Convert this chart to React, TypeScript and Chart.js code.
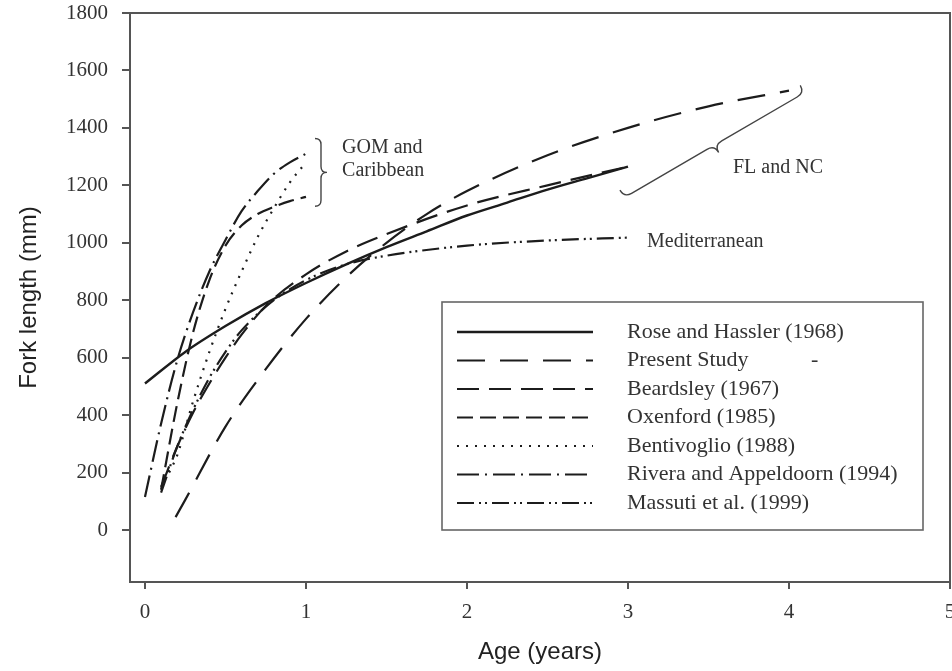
import React, { useEffect, useRef } from "react";
import { Chart, registerables } from "chart.js";

Chart.register(...registerables);

// ---------- data ----------
const xTicks = [0, 1, 2, 3, 4, 5];
const yTicks = [0, 200, 400, 600, 800, 1000, 1200, 1400, 1600, 1800];

const seriesNames = [
  "Rose and Hassler (1968)",
  "Present Study",
  "Beardsley (1967)",
  "Oxenford (1985)",
  "Bentivoglio (1988)",
  "Rivera and Appeldoorn (1994)",
  "Massuti et al. (1999)",
];

const roseAge = [0, 0.25, 0.5, 0.75, 1, 1.25, 1.5, 1.75, 2, 2.25, 2.5, 2.75, 3];
const roseFL = [510, 620, 710, 790, 860, 925, 985, 1040, 1095, 1140, 1185, 1225, 1265];

const presentAge = [0.19, 0.25, 0.5, 0.75, 1, 1.25, 1.5, 1.75, 2, 2.5, 3, 3.5, 4];
const presentFL = [45, 105, 360, 560, 735, 880, 1000, 1100, 1180, 1305, 1400, 1475, 1530];

const beardsleyAge = [0.1, 0.2, 0.3, 0.4, 0.5, 0.6, 0.75, 1, 1.25, 1.5, 2, 2.5, 3];
const beardsleyFL = [150, 290, 410, 510, 600, 680, 780, 890, 970, 1030, 1130, 1200, 1265];

const oxenfordAge = [0.1, 0.2, 0.3, 0.4, 0.5, 0.6, 0.7, 0.8, 0.9, 1];
const oxenfordFL = [140, 440, 690, 870, 990, 1060, 1100, 1125, 1145, 1160];

const bentivoglioAge = [0.15, 0.2, 0.3, 0.4, 0.5, 0.6, 0.7, 0.8, 0.9, 1];
const bentivoglioFL = [200, 260, 450, 620, 770, 900, 1020, 1120, 1210, 1280];

const riveraAge = [0, 0.1, 0.2, 0.3, 0.4, 0.5, 0.6, 0.7, 0.8, 0.9, 1];
const riveraFL = [115, 370, 590, 760, 900, 1010, 1110, 1180, 1240, 1280, 1310];

const massutiAge = [0.1, 0.2, 0.3, 0.4, 0.5, 0.6, 0.8, 1, 1.25, 1.5, 2, 2.5, 3];
const massutiFL = [130, 290, 420, 530, 620, 695, 800, 870, 925, 955, 990, 1008, 1018];

// ---------- styles ----------
const SERIF = '"Liberation Serif", "Times New Roman", serif';
const SANS = '"Liberation Sans", Arial, sans-serif';
const INK = "#1c1c1c";
const FRAME = "#555555";

const dashStyles: number[][] = [
  [],
  [28, 15],
  [22, 10],
  [16, 7],
  [2, 7],
  [22, 6, 2, 6],
  [17, 5, 2, 4, 2, 5],
];
const widths = [2.4, 2.2, 2.2, 2.2, 2.2, 2.2, 2.2];

const pairs = (ages: number[], fl: number[]) => ages.map((a, i) => ({ x: a, y: fl[i] }));

const seriesData = [
  pairs(roseAge, roseFL),
  pairs(presentAge, presentFL),
  pairs(beardsleyAge, beardsleyFL),
  pairs(oxenfordAge, oxenfordFL),
  pairs(bentivoglioAge, bentivoglioFL),
  pairs(riveraAge, riveraFL),
  pairs(massutiAge, massutiFL),
];

function brace(ctx: CanvasRenderingContext2D, x1: number, y1: number, x2: number, y2: number, w: number) {
  const dx = x2 - x1, dy = y2 - y1;
  const len = Math.hypot(dx, dy);
  const ux = dx / len, uy = dy / len;
  const nx = uy, ny = -ux;
  const h = w / 2;
  const mx = (x1 + x2) / 2, my = (y1 + y2) / 2;
  ctx.beginPath();
  ctx.moveTo(x1, y1);
  ctx.quadraticCurveTo(x1 + nx * h, y1 + ny * h, x1 + nx * h + ux * h, y1 + ny * h + uy * h);
  ctx.lineTo(mx + nx * h - ux * h, my + ny * h - uy * h);
  ctx.quadraticCurveTo(mx + nx * h, my + ny * h, mx + nx * w, my + ny * w);
  ctx.quadraticCurveTo(mx + nx * h, my + ny * h, mx + nx * h + ux * h, my + ny * h + uy * h);
  ctx.lineTo(x2 + nx * h - ux * h, y2 + ny * h - uy * h);
  ctx.quadraticCurveTo(x2 + nx * h, y2 + ny * h, x2, y2);
  ctx.stroke();
}

const decorPlugin = {
  id: "decor",
  afterDraw(chart: any) {
    const { ctx, chartArea: a, scales } = chart;
    const xs = scales.x, ys = scales.y;
    const px = (v: number) => xs.getPixelForValue(v);
    const py = (v: number) => ys.getPixelForValue(v);
    ctx.save();
    // top & right frame
    ctx.strokeStyle = FRAME;
    ctx.lineWidth = 2;
    ctx.setLineDash([]);
    ctx.beginPath();
    ctx.moveTo(a.left - 1, a.top);
    ctx.lineTo(a.right, a.top);
    ctx.lineTo(a.right, a.bottom);
    ctx.stroke();

    // legend box
    const L = { left: 442, top: 302, right: 923, bottom: 530 };
    ctx.fillStyle = "#ffffff";
    ctx.fillRect(L.left, L.top, L.right - L.left, L.bottom - L.top);
    ctx.strokeStyle = "#666";
    ctx.lineWidth = 1.6;
    ctx.strokeRect(L.left, L.top, L.right - L.left, L.bottom - L.top);
    ctx.font = `22px ${SERIF}`;
    ctx.textBaseline = "middle";
    ctx.textAlign = "left";
    chart.data.datasets.forEach((ds: any, i: number) => {
      const yy = 332 + i * 28.5;
      ctx.strokeStyle = INK;
      ctx.lineWidth = ds.borderWidth;
      ctx.lineCap = "butt";
      ctx.setLineDash(ds.borderDash || []);
      ctx.beginPath();
      ctx.moveTo(457, yy);
      ctx.lineTo(593, yy);
      ctx.stroke();
      ctx.setLineDash([]);
      ctx.fillStyle = "#333";
      ctx.fillText(ds.label, 627, yy);
    });
    ctx.fillText("-", 811, 332 + 28.5);

    // annotations
    ctx.strokeStyle = "#444";
    ctx.lineWidth = 1.4;
    ctx.setLineDash([]);
    brace(ctx, px(1.056), py(1363), px(1.056), py(1127), 12);
    brace(ctx, px(4.07), py(1548), px(2.95), py(1183), 17);
    ctx.fillStyle = "#333";
    ctx.font = `20px ${SERIF}`;
    ctx.textBaseline = "middle";
    ctx.fillText("GOM and", px(1.224), py(1332));
    ctx.fillText("Caribbean", px(1.224), py(1252));
    ctx.fillText("FL and NC", px(3.652), py(1262));
    ctx.fillText("Mediterranean", px(3.118), py(1005));
    ctx.restore();
  },
};

export default function App() {
  const ref = useRef<HTMLCanvasElement>(null);
  useEffect(() => {
    document.body.style.margin = "0";
    const chart = new Chart(ref.current as HTMLCanvasElement, {
      type: "line",
      data: {
        datasets: seriesNames.map((name, i) => ({
          label: name,
          data: seriesData[i],
          borderColor: INK,
          borderWidth: widths[i],
          borderDash: dashStyles[i],
          pointRadius: 0,
          fill: false,
          cubicInterpolationMode: "monotone" as const,
        })),
      },
      options: {
        animation: false,
        responsive: false,
        maintainAspectRatio: false,
        layout: { padding: { left: 0, top: 13, right: 2, bottom: 0 }, autoPadding: false },
        plugins: { legend: { display: false }, tooltip: { enabled: false }, title: { display: false } },
        scales: {
          x: {
            type: "linear",
            min: -0.093,
            max: 5,
            afterBuildTicks: (s: any) => {
              s.ticks = xTicks.map((v) => ({ value: v }));
            },
            afterFit: (s: any) => {
              s.height = 89;
              s.paddingLeft = 0;
              s.paddingRight = 0;
            },
            grid: { drawOnChartArea: false, drawTicks: true, tickLength: 7, color: FRAME, lineWidth: 2 },
            border: { display: true, color: FRAME, width: 2 },
            ticks: {
              font: { family: SERIF, size: 21 },
              color: "#333",
              padding: 11,
              maxRotation: 0,
              autoSkip: false,
              callback: (v: any) => String(v),
            },
            title: {
              display: true,
              text: "Age (years)",
              font: { family: SANS, size: 24 },
              color: "#222",
              padding: { top: 0, bottom: 4 },
            },
          },
          y: {
            type: "linear",
            min: -181,
            max: 1800,
            afterBuildTicks: (s: any) => {
              s.ticks = yTicks.map((v) => ({ value: v }));
            },
            afterFit: (s: any) => {
              s.width = 130;
              s.paddingTop = 0;
              s.paddingBottom = 0;
            },
            grid: { drawOnChartArea: false, drawTicks: true, tickLength: 8, color: FRAME, lineWidth: 2 },
            border: { display: true, color: FRAME, width: 2 },
            ticks: {
              font: { family: SERIF, size: 21 },
              color: "#333",
              padding: 14,
              autoSkip: false,
              callback: (v: any) => String(v),
            },
            title: {
              display: true,
              text: "Fork length (mm)",
              font: { family: SANS, size: 24 },
              color: "#222",
              padding: { top: 15, bottom: 0 },
            },
          },
        },
      },
      plugins: [decorPlugin],
    } as any);
    return () => chart.destroy();
  }, []);
  return (
    <div style={{ position: "fixed", left: 0, top: 0, width: 952, height: 671, background: "#fff" }}>
      <canvas ref={ref} width={952} height={671} style={{ display: "block" }} />
    </div>
  );
}
